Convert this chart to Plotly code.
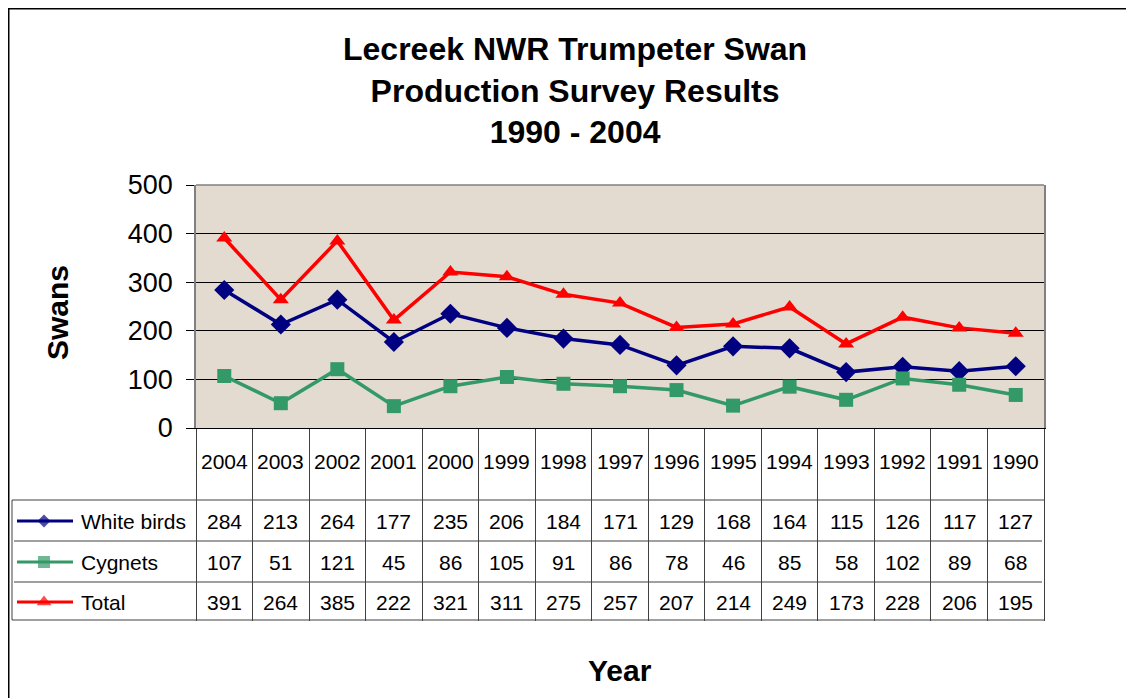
import plotly.graph_objects as go

# ---- data ----
years = ["2004", "2003", "2002", "2001", "2000", "1999", "1998", "1997",
         "1996", "1995", "1994", "1993", "1992", "1991", "1990"]
white_birds = [284, 213, 264, 177, 235, 206, 184, 171, 129, 168, 164, 115, 126, 117, 127]
cygnets = [107, 51, 121, 45, 86, 105, 91, 86, 78, 46, 85, 58, 102, 89, 68]
total = [391, 264, 385, 222, 321, 311, 275, 257, 207, 214, 249, 173, 228, 206, 195]
series_names = ["White birds", "Cygnets", "Total"]
y_ticks = [0, 100, 200, 300, 400, 500]

# ---- styles ----
series_values = [white_birds, cygnets, total]
colors = ["#000080", "#339966", "#FF0000"]
symbols = ["diamond", "square", "triangle-up"]
msizes = [15.5, 14, 14]
key_sizes = [10, 12, 13]
FONT = "Liberation Sans, Arial, sans-serif"

# page offset of the figure (body margin) and figure size
OX, OY = 8, 8
W, H = 1126, 690
PL, PR, PT, PB = 196, 1044, 185, 428        # plot area, page pixels
ROW_Y = [521, 562, 602]                      # table row centres, page pixels
HEAD_Y = 461


def px(x):
    return (x - OX) / W


def py(y):
    return 1 - (y - OY) / H


fig = go.Figure()

for name, vals, col, sym, ms in zip(series_names, series_values, colors, symbols, msizes):
    fig.add_trace(go.Scatter(
        x=years, y=vals, name=name, mode="lines+markers",
        line=dict(color=col, width=3.5),
        marker=dict(symbol=sym, size=ms, color=col, line=dict(width=0)),
        showlegend=False, cliponaxis=False, xaxis="x", yaxis="y",
        hoverinfo="x+y+name"))

# legend keys inside the data table (pixel overlay axes)
for name, col, sym, ks, ry in zip(series_names, colors, symbols, key_sizes, ROW_Y):
    fig.add_trace(go.Scatter(
        x=[17, 44, 73], y=[ry, ry, ry], mode="lines+markers",
        line=dict(color=col, width=3),
        marker=dict(symbol=sym, size=[0, ks, 0], color=col, line=dict(width=0)),
        showlegend=False, hoverinfo="skip", xaxis="x2", yaxis="y2"))

annotations = []
# title
annotations.append(dict(
    text="Lecreek NWR Trumpeter Swan<br>Production Survey Results<br>1990 - 2004",
    x=px(575), y=py(90), xref="paper", yref="paper", showarrow=False,
    xanchor="center", yanchor="middle", align="center",
    font=dict(family=FONT, size=32, color="black", weight="bold")))
# axis titles
annotations.append(dict(
    text="Swans", x=px(57), y=py(313), xref="paper", yref="paper", showarrow=False,
    textangle=-90, xanchor="center", yanchor="middle",
    font=dict(family=FONT, size=30, color="black", weight="bold")))
annotations.append(dict(
    text="Year", x=px(620), y=py(670), xref="paper", yref="paper", showarrow=False,
    xanchor="center", yanchor="middle",
    font=dict(family=FONT, size=30, color="black", weight="bold")))

# table header (years) - x given as category index
for j, yr in enumerate(years):
    annotations.append(dict(
        text=yr, x=j, xref="x", y=py(HEAD_Y), yref="paper", showarrow=False,
        xanchor="center", yanchor="middle",
        font=dict(family=FONT, size=21, color="black")))
# table rows
for name, vals, ry in zip(series_names, series_values, ROW_Y):
    annotations.append(dict(
        text=name, x=px(79), xref="paper", y=py(ry), yref="paper", showarrow=False,
        xanchor="left", yanchor="middle",
        font=dict(family=FONT, size=21, color="black")))
    for j, v in enumerate(vals):
        annotations.append(dict(
            text=str(v), x=j, xref="x", y=py(ry), yref="paper", showarrow=False,
            xanchor="center", yanchor="middle",
            font=dict(family=FONT, size=21, color="black")))

LC = "#404040"
shapes = [
    # outer chart border
    dict(type="rect", xref="paper", yref="paper", x0=px(8.75), x1=px(1180),
         y0=py(760), y1=py(8.75), line=dict(color="black", width=1.5), layer="above"),
    # plot area background
    dict(type="rect", xref="paper", yref="paper", x0=px(PL), x1=px(PR),
         y0=py(PB), y1=py(PT), fillcolor="#E3DBD0", line=dict(width=0), layer="below"),
    # plot area top border
    dict(type="line", xref="paper", yref="paper", x0=px(PL), x1=px(PR),
         y0=py(PT), y1=py(PT), line=dict(color="#808080", width=1.5), layer="above"),
    # table horizontal lines
    dict(type="line", xref="paper", yref="paper", x0=px(12), x1=px(PR),
         y0=py(500), y1=py(500), line=dict(color=LC, width=1)),
    dict(type="line", xref="paper", yref="paper", x0=px(14), x1=px(1042),
         y0=py(541), y1=py(541), line=dict(color=LC, width=1)),
    dict(type="line", xref="paper", yref="paper", x0=px(14), x1=px(1042),
         y0=py(582), y1=py(582), line=dict(color=LC, width=1)),
    dict(type="line", xref="paper", yref="paper", x0=px(12), x1=px(PR),
         y0=py(620), y1=py(620), line=dict(color=LC, width=1)),
    # table left edge
    dict(type="line", xref="paper", yref="paper", x0=px(12), x1=px(12),
         y0=py(500), y1=py(620), line=dict(color=LC, width=1)),
]

fig.update_layout(
    template="none",
    width=W, height=H,
    margin=dict(l=0, r=0, t=0, b=0, pad=0, autoexpand=False),
    paper_bgcolor="white", plot_bgcolor="rgba(0,0,0,0)",
    font=dict(family=FONT, color="black"),
    showlegend=False, hovermode="closest",
    annotations=annotations, shapes=shapes,
    xaxis=dict(
        type="category", domain=[px(PL), px(PR)], range=[-0.5, len(years) - 0.5],
        anchor="y", showticklabels=False, ticks="outside", tickson="boundaries",
        ticklen=620 - PB, tickcolor=LC, tickwidth=1, automargin=False,
        showline=True, linecolor="black", linewidth=1, showgrid=False,
        zeroline=False, fixedrange=True),
    yaxis=dict(
        domain=[py(PB), py(PT)], range=[0, 500], anchor="x", automargin=False,
        tickvals=y_ticks, ticks="outside", ticklen=8, tickcolor="black", tickwidth=1,
        ticklabelstandoff=8,
        tickfont=dict(family=FONT, size=27, color="black"),
        showgrid=True, gridcolor="black", gridwidth=1,
        showline=True, linecolor="#808080", linewidth=1.5, mirror=True,
        zeroline=False, fixedrange=True),
    xaxis2=dict(domain=[0, 1], range=[OX, OX + W], anchor="y2", visible=False,
                fixedrange=True, automargin=False),
    yaxis2=dict(domain=[0, 1], range=[OY + H, OY], anchor="x2", visible=False,
                fixedrange=True, automargin=False),
)

fig.write_html("out.html")
